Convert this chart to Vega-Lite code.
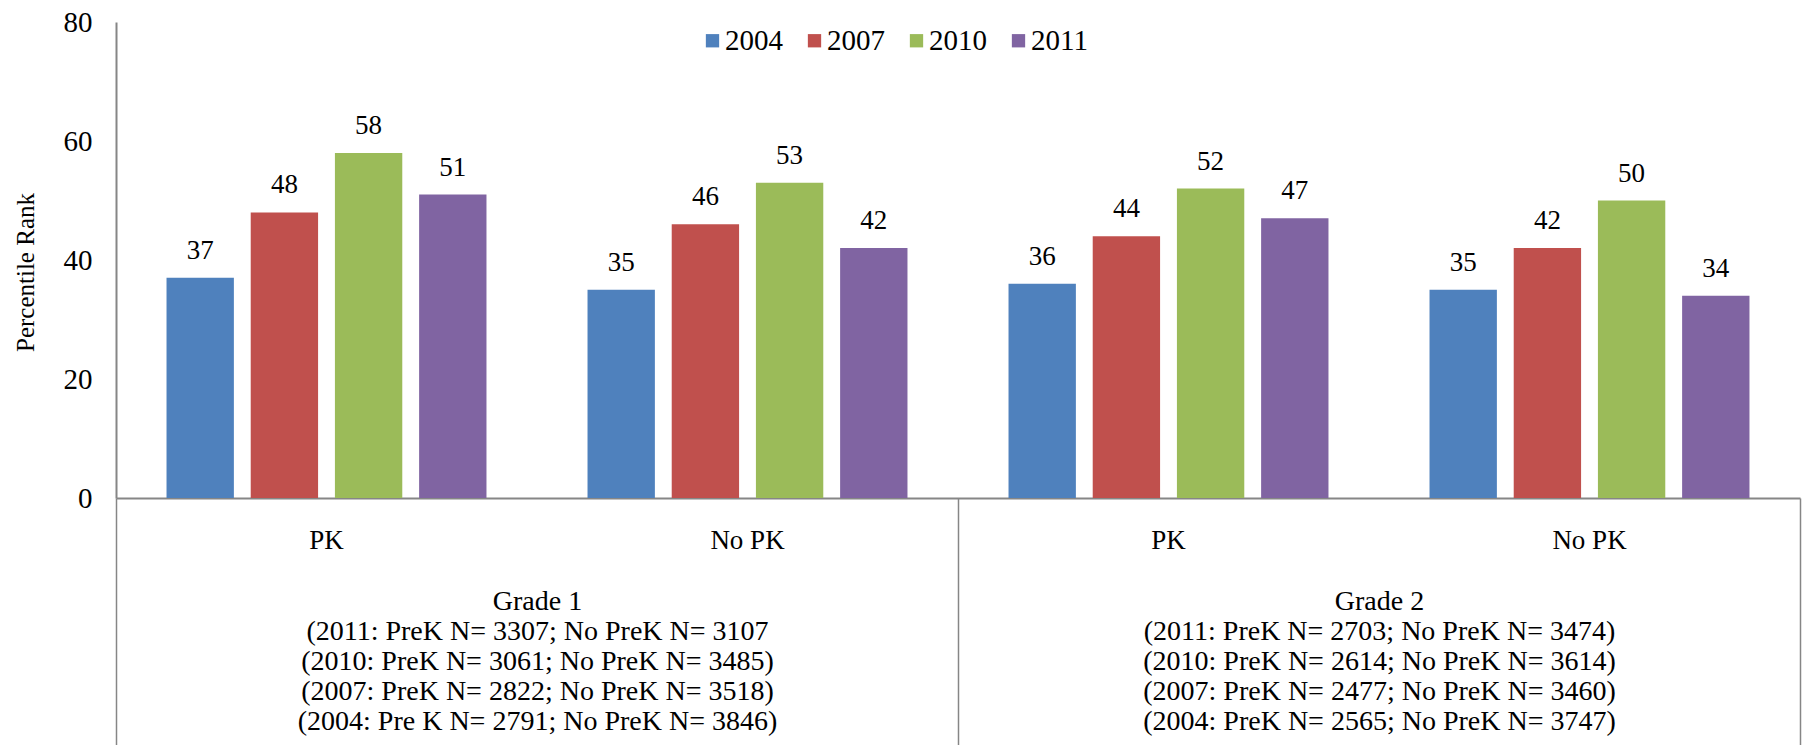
{
  "$schema": "https://vega.github.io/schema/vega-lite/v6.json",
  "width": 1684,
  "height": 476,
  "autosize": {"type": "none"},
  "padding": {"left": 116, "top": 22, "right": 11, "bottom": 247},
  "config": {
    "font": "Liberation Serif",
    "view": {"stroke": null},
    "axis": {"labelColor": "#000000", "titleColor": "#000000", "labelFont": "Liberation Serif", "titleFont": "Liberation Serif"},
    "legend": {"labelFont": "Liberation Serif"},
    "text": {"font": "Liberation Serif"}
  },
  "layer": [
    {
      "data": {
        "values": [
          {"grade": "Grade 1", "cat": "G1|PK", "year": "2004", "value": 37},
          {"grade": "Grade 1", "cat": "G1|PK", "year": "2007", "value": 48},
          {"grade": "Grade 1", "cat": "G1|PK", "year": "2010", "value": 58},
          {"grade": "Grade 1", "cat": "G1|PK", "year": "2011", "value": 51},
          {"grade": "Grade 1", "cat": "G1|No PK", "year": "2004", "value": 35},
          {"grade": "Grade 1", "cat": "G1|No PK", "year": "2007", "value": 46},
          {"grade": "Grade 1", "cat": "G1|No PK", "year": "2010", "value": 53},
          {"grade": "Grade 1", "cat": "G1|No PK", "year": "2011", "value": 42},
          {"grade": "Grade 2", "cat": "G2|PK", "year": "2004", "value": 36},
          {"grade": "Grade 2", "cat": "G2|PK", "year": "2007", "value": 44},
          {"grade": "Grade 2", "cat": "G2|PK", "year": "2010", "value": 52},
          {"grade": "Grade 2", "cat": "G2|PK", "year": "2011", "value": 47},
          {"grade": "Grade 2", "cat": "G2|No PK", "year": "2004", "value": 35},
          {"grade": "Grade 2", "cat": "G2|No PK", "year": "2007", "value": 42},
          {"grade": "Grade 2", "cat": "G2|No PK", "year": "2010", "value": 50},
          {"grade": "Grade 2", "cat": "G2|No PK", "year": "2011", "value": 34}
        ]
      },
      "encoding": {
        "x": {
          "field": "cat",
          "type": "nominal",
          "sort": null,
          "scale": {"paddingInner": 0, "paddingOuter": 0},
          "axis": {
            "title": null,
            "labelExpr": "split(datum.value, '|')[1]",
            "labelAngle": 0,
            "labelFont": "Liberation Serif",
            "labelFontSize": 27,
            "labelBaseline": "alphabetic",
            "labelPadding": 50,
            "ticks": false,
            "labelOverlap": false,
            "domainColor": "#868686",
            "domainWidth": 2
          }
        },
        "xOffset": {
          "field": "year",
          "type": "nominal",
          "scale": {"paddingInner": 0.2, "paddingOuter": 0.6}
        },
        "y": {
          "field": "value",
          "type": "quantitative",
          "scale": {"domain": [0, 80]},
          "axis": {
            "title": "Percentile Rank",
            "values": [0, 20, 40, 60, 80],
            "grid": false,
            "ticks": false,
            "labelFont": "Liberation Serif",
            "labelPadding": 24,
            "labelFontSize": 29,
            "titleFont": "Liberation Serif",
            "titleFontSize": 25,
            "titleFontWeight": "normal",
            "titleX": -83,
            "titleY": 250,
            "titleBaseline": "alphabetic",
            "domainColor": "#868686",
            "domainWidth": 2
          }
        }
      },
      "layer": [
        {
          "mark": {"type": "bar"},
          "encoding": {
            "color": {
              "field": "year",
              "type": "nominal",
              "scale": {"domain": ["2004", "2007", "2010", "2011"], "range": ["#4F81BD", "#C0504D", "#9BBB59", "#8064A2"]},
              "legend": {
                "orient": "none",
                "legendX": 582,
                "legendY": 4,
                "direction": "horizontal",
                "title": null,
                "symbolType": "square",
                "symbolSize": 177,
                "symbolStrokeWidth": 0,
                "symbolOpacity": 1,
                "labelFont": "Liberation Serif",
                "labelFontSize": 29,
                "labelColor": "#000000",
                "labelOffset": -2,
                "columnPadding": 17
              }
            }
          }
        },
        {
          "mark": {"type": "text", "baseline": "alphabetic", "dy": -19, "font": "Liberation Serif", "fontSize": 27, "color": "#000000"},
          "encoding": {"text": {"field": "value", "type": "quantitative"}}
        }
      ]
    },
    {
      "data": {"values": [{"grade": "Grade 1"}, {"grade": "Grade 2"}]},
      "mark": {"type": "text"},
      "encoding": {
        "x": {
          "field": "grade",
          "type": "nominal",
          "scale": {"paddingInner": 0, "paddingOuter": 0},
          "axis": {
            "title": null,
            "orient": "bottom",
            "domain": false,
            "ticks": true,
            "tickBand": "extent",
            "tickSize": 247,
            "tickColor": "#868686",
            "tickWidth": 1.5,
            "labelAngle": 0,
            "labelFont": "Liberation Serif",
            "labelFontSize": 28,
            "labelBaseline": "alphabetic",
            "labelLineHeight": 30,
            "labelPadding": -136,
            "labelLimit": 1000,
            "labelOverlap": false,
            "labelExpr": "datum.value == 'Grade 1' ? ['Grade 1', '(2011: PreK N= 3307; No PreK N= 3107', '(2010: PreK N= 3061; No PreK N= 3485)', '(2007:  PreK N= 2822; No PreK N= 3518)', '(2004: Pre K N= 2791; No PreK N= 3846)'] : datum.value == 'Grade 2' ? ['Grade 2', '(2011: PreK N= 2703; No PreK N= 3474)', '(2010: PreK N= 2614; No PreK N= 3614)', '(2007: PreK N= 2477; No PreK N= 3460)', '(2004: PreK N= 2565; No PreK N= 3747)'] : ''"
          }
        },
        "text": {"value": ""}
      }
    }
  ],
  "resolve": {"scale": {"x": "independent"}}
}
